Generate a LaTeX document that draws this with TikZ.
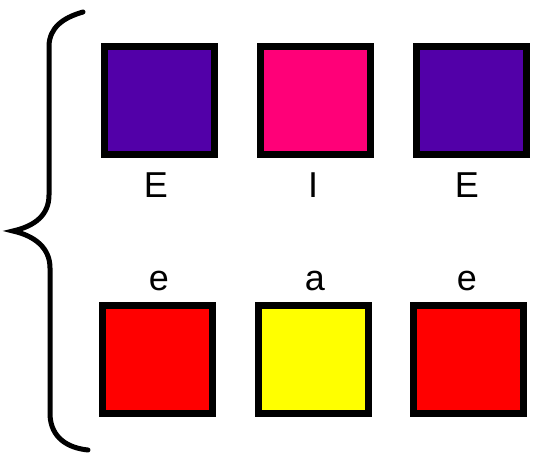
\documentclass[tikz,border=0pt]{standalone}
\usepackage{fontspec}
\setmainfont{Liberation Sans}
\definecolor{vowpurple}{HTML}{5200A8}
\definecolor{vowpink}{HTML}{FF0078}
\definecolor{vowred}{HTML}{FF0000}
\definecolor{vowyellow}{HTML}{FFFF00}
\begin{document}
\begin{tikzpicture}[x=1pt,y=-1pt,
  sq/.style={draw=black,line width=7pt,rectangle,inner sep=0pt,minimum width=110pt,minimum height=108pt},
  lbl/.style={anchor=base,inner sep=0pt,font=\fontsize{36}{36}\selectfont},
  brace/.style={draw=black,line width=5pt,line join=miter,line cap=round}]
\useasboundingbox (0,0) rectangle (539,462);
% top row
\node[sq,fill=vowpurple] (t1) at (159.5,100.5) {};
\node[sq,fill=vowpink]   (t2) at (315.5,100.5) {};
\node[sq,fill=vowpurple] (t3) at (471.5,100.5) {};
% bottom row
\node[sq,fill=vowred]    (b1) at (157,359.5) {};
\node[sq,fill=vowyellow] (b2) at (313,359.5) {};
\node[sq,fill=vowred]    (b3) at (468.5,359.5) {};
% labels
\node[lbl] (lt1) at (156,198) {E};
\node[lbl] (lt2) at (313,198) {I};
\node[lbl] (lt3) at (467,198) {E};
\node[lbl] (lb1) at (159,291) {e};
\node[lbl] (lb2) at (315,291) {a};
\node[lbl] (lb3) at (467,291) {e};
% brace
\draw[brace] (83,12) .. controls (62,18) and (50,28) .. (49,45) -- (49,195)
  .. controls (49,215) and (35,226) .. (13,231)
  .. controls (35,236) and (50,248) .. (50,268) -- (50,415)
  .. controls (51,438) and (68,448) .. (88,450);
\end{tikzpicture}
\end{document}
